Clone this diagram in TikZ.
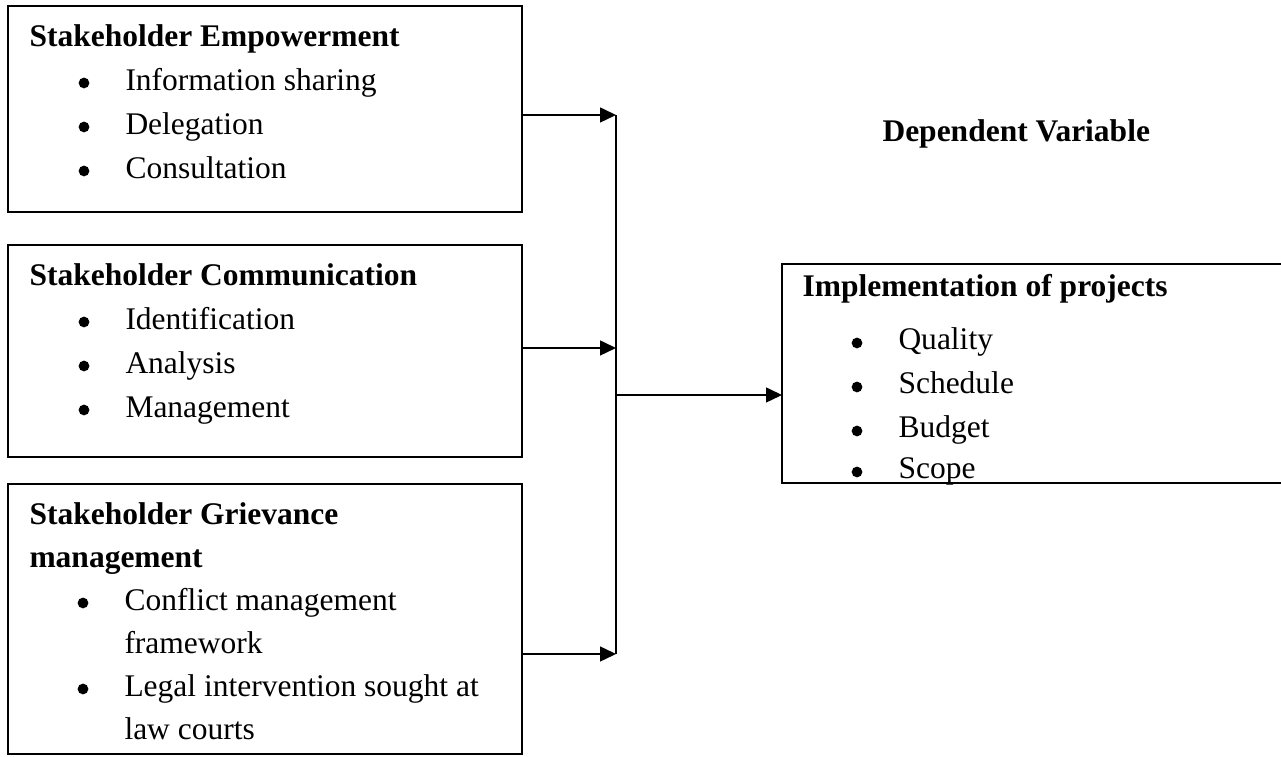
\documentclass[tikz,border=0pt]{standalone}
\usepackage{fontspec}
\setmainfont{Liberation Serif}
\usetikzlibrary{arrows.meta}
\begin{document}
\begin{tikzpicture}[x=0.4pt,y=-0.4pt,
  box/.style={draw, line width=0.6pt, inner sep=0pt, outer sep=0pt, anchor=north west},
  ttl/.style={anchor=base west, inner sep=0pt, font=\fontsize{12.6}{15}\selectfont\bfseries},
  itm/.style={anchor=base west, inner sep=0pt, font=\fontsize{12.6}{15}\selectfont},
  dot/.style={circle, fill, inner sep=0pt, minimum size=4.3pt},
  arr/.style={line width=0.6pt, -{Triangle[length=6.4pt,width=6pt]}},
  ln/.style={line width=0.6pt}]
\useasboundingbox (0,0) rectangle (1281,757);
\clip (0,0) rectangle (1281,757);
% boxes
\node[box, minimum width=205.6pt, minimum height=82.4pt] (b1) at (8,6) {};
\node[box, minimum width=205.6pt, minimum height=84.8pt] (b2) at (8,245) {};
\node[box, minimum width=205.6pt, minimum height=108pt] (b3) at (8,484) {};
\node[box, minimum width=210pt, minimum height=87.6pt] (b4) at (782,264) {};
% box 1
\node[ttl] (t1) at (29,47) {Stakeholder Empowerment};
\node[dot] (d11) at (84,83) {};
\node[itm] (i11) at (125,91) {Information sharing};
\node[dot] (d12) at (84,127) {};
\node[itm] (i12) at (125,135) {Delegation};
\node[dot] (d13) at (84,171) {};
\node[itm] (i13) at (125,179) {Consultation};
% box 2
\node[ttl] (t2) at (29,286) {Stakeholder Communication};
\node[dot] (d21) at (84,322) {};
\node[itm] (i21) at (125,330) {Identification};
\node[dot] (d22) at (84,366) {};
\node[itm] (i22) at (125,374) {Analysis};
\node[dot] (d23) at (84,410) {};
\node[itm] (i23) at (125,418) {Management};
% box 3
\node[ttl] (t3a) at (29,525) {Stakeholder Grievance};
\node[ttl] (t3b) at (29,568) {management};
\node[dot] (d31) at (83,603) {};
\node[itm] (i31) at (124,611) {Conflict management};
\node[itm] (i31b) at (124,654) {framework};
\node[dot] (d32) at (83,689) {};
\node[itm] (i32) at (124,697) {Legal intervention sought at};
\node[itm] (i32b) at (124,740) {law courts};
% box 4
\node[ttl] (t4) at (802,297) {Implementation of projects};
\node[dot] (d41) at (857,343) {};
\node[itm] (i41) at (898,350) {Quality};
\node[dot] (d42) at (857,387) {};
\node[itm] (i42) at (898,394) {Schedule};
\node[dot] (d43) at (857,431) {};
\node[itm] (i43) at (898,438) {Budget};
\node[dot] (d44) at (857,472) {};
\node[itm] (i44) at (898,479) {Scope};
% label
\node[ttl] (dv) at (882,142) {Dependent Variable};
% connectors
\coordinate (j1) at (616,115);
\coordinate (j2) at (616,348);
\coordinate (j3) at (616,654);
\coordinate (jm) at (616,395);
\draw[ln] (j1) -- (j3);
\draw[arr] (b1.east |- j1) -- (j1);
\draw[arr] (b2.east |- j2) -- (j2);
\draw[arr] (b3.east |- j3) -- (j3);
\draw[arr] (jm) -- (b4.west |- jm);
\end{tikzpicture}
\end{document}
